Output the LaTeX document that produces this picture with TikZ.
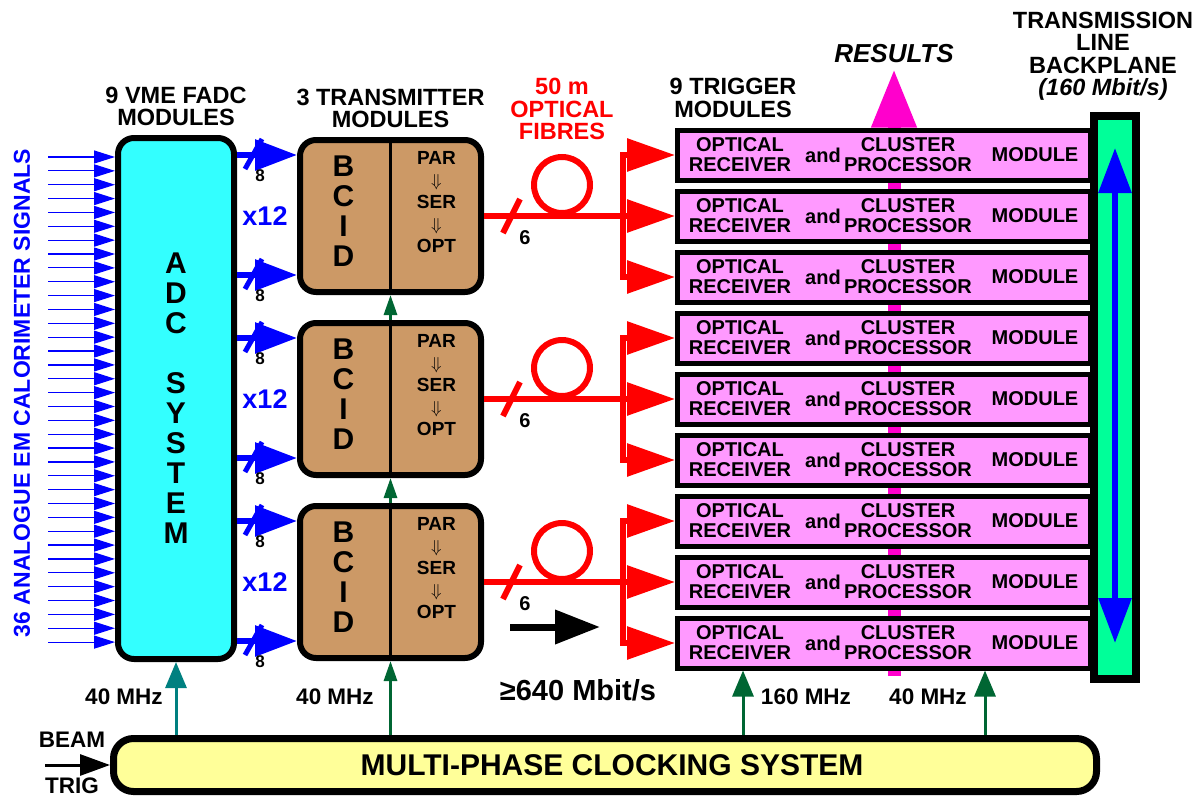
\documentclass[tikz,border=0pt]{standalone}
\usepackage{fontspec}
\setmainfont{Liberation Sans}
\usepackage{xcolor}
\usepackage{tikz}
\usetikzlibrary{arrows.meta, positioning, calc, backgrounds}

\definecolor{adccyan}{RGB}{51,255,255}
\definecolor{bcidtan}{RGB}{204,153,102}
\definecolor{tmpink}{RGB}{255,153,255}
\definecolor{bpgreen}{RGB}{0,255,153}
\definecolor{clkyellow}{RGB}{255,255,153}
\definecolor{clkgreen}{RGB}{0,102,51}
\definecolor{clkteal}{RGB}{0,128,128}
\definecolor{resmag}{RGB}{255,0,204}

\begin{document}
\begin{tikzpicture}[
    x=1pt, y=-1pt,
    lbl/.style={inner sep=0pt, align=center, font=\fontsize{22.5}{22}\selectfont\bfseries},
    headlbl/.style={lbl, font=\fontsize{23.5}{22.5}\selectfont\bfseries},
    modtxt/.style={lbl, font=\fontsize{20}{20}\selectfont\bfseries},
    bigtxt/.style={lbl, font=\fontsize{30}{30}\selectfont\bfseries},
    partxt/.style={lbl, font=\fontsize{19}{22}\selectfont\bfseries},
    smalltxt/.style={lbl, font=\fontsize{17}{17}\selectfont\bfseries},
    adcbox/.style={rectangle, draw=black, line width=6pt, rounded corners=16pt, fill=adccyan, minimum width=116pt, minimum height=521pt},
    bcidbox/.style={rectangle, draw=black, line width=6pt, rounded corners=16pt, fill=bcidtan, minimum width=181pt, minimum height=152pt},
    trigbox/.style={rectangle, draw=black, line width=5pt, fill=tmpink, minimum width=413pt, minimum height=50pt},
    bpbox/.style={rectangle, draw=black, line width=8pt, fill=bpgreen, minimum width=42pt, minimum height=563pt},
    clkbox/.style={rectangle, draw=black, line width=7pt, rounded corners=20pt, fill=clkyellow, minimum width=983pt, minimum height=53pt},
    fibreloop/.style={circle, draw=red, line width=6pt, minimum size=56pt, inner sep=0pt},
    sigarr/.style={blue, line width=1.2pt, -{Triangle[length=21pt,width=13pt]}},
    busarr/.style={blue, line width=6pt, -{Triangle[length=42pt,width=30pt]}},
    busslash/.style={blue, line width=5pt},
    fibre/.style={red, line width=6pt},
    fibrearr/.style={fibre, -{Triangle[length=48pt,width=32pt]}},
    clkarr/.style={clkgreen, line width=3pt, -{Triangle[length=26pt,width=21pt]}},
    smallclk/.style={clkgreen, line width=3pt, -{Triangle[length=20pt,width=13pt]}},
    bparr/.style={blue, line width=6pt, {Triangle[length=45pt,width=32pt]}-{Triangle[length=45pt,width=32pt]}},
    resarr/.style={resmag, line width=13pt, -{Triangle[length=59pt,width=42pt]}},
    bigarr/.style={black, line width=7pt, -{Triangle[length=45pt,width=33pt]}},
    beamarr/.style={black, line width=3pt, -{Triangle[length=30pt,width=21pt]}}
]
\useasboundingbox (0,0) rectangle (1203,798);

% FADC and transmitter modules
\node[adcbox] (adc) at (176,398.5) {};
\node[bigtxt] (adctxt) at (adc.center) {A\\D\\C\\[30pt]S\\Y\\S\\T\\E\\M};
\node[bcidbox] (bcid1) at (390.5,216) {};
\node[bcidbox, below=25pt of bcid1] (bcid2) {};
\node[bcidbox, below=25pt of bcid2] (bcid3) {};

% Trigger modules
\foreach \k in {1,...,9} {
  \node[trigbox] (tm\k) at (884, {155+(\k-1)*61}) {};
  \node[modtxt] (or\k) at ([xshift=65pt]tm\k.west) {OPTICAL\\RECEIVER};
  \node[modtxt] (and\k) at ([xshift=148pt]tm\k.west) {and};
  \node[modtxt] (cp\k) at ([xshift=233pt]tm\k.west) {CLUSTER\\PROCESSOR};
  \node[modtxt] (mod\k) at ([xshift=360pt]tm\k.west) {MODULE};
}

% Backplane and clock
\node[bpbox] (bp) at (1115,397.5) {};
\node[clkbox] (clock) at (605,765) {};
\node[bigtxt] (clktxt) at ([xshift=7pt]clock.center) {MULTI-PHASE CLOCKING SYSTEM};

% Titles
\node[headlbl, above=9pt of adc] (fadc) {9 VME FADC\\MODULES};
\node[headlbl, above=9pt of bcid1] (txm) {3 TRANSMITTER\\MODULES};
\node[headlbl, red, anchor=south] (fibres) at (562,140) {50 m\\OPTICAL\\FIBRES};
\node[headlbl, above=10pt of tm1.north west, xshift=58pt] (trigmods) {9 TRIGGER\\MODULES};
\node[headlbl, above=11pt of bp, xshift=-12pt] (bplbl) {TRANSMISSION\\LINE\\BACKPLANE\\{\itshape (160 Mbit/s)}};
\node[lbl, blue, rotate=90, font=\fontsize{23}{23}\selectfont\bfseries] (siglbl) at (22,393) {36 ANALOGUE EM CALORIMETER SIGNALS};

% Analogue inputs
\foreach \i in {0,...,35} {
  \coordinate (sig\i) at (48, {157+\i*13.86});
  \draw[sigarr] (sig\i) -- (sig\i -| adc.west);
}

% BCID / PAR-SER-OPT
\foreach \g in {1,2,3} {
  \draw[line width=3pt] (bcid\g.north) -- (bcid\g.south);
  \node[bigtxt] (bl\g) at ($(bcid\g.center)+(-47,-5)$) {B\\C\\I\\D};
  \node[partxt] (pr\g) at ($(bcid\g.center)+(46,-14)$) {PAR\\$\Downarrow$\\SER\\$\Downarrow$\\OPT};
  % digital buses
  \coordinate (bia\g) at ([yshift=61pt]bcid\g.west);
  \coordinate (bib\g) at ([yshift=-59pt]bcid\g.west);
  \draw[busarr] (bia\g -| adc.east) -- (bia\g);
  \draw[busslash] ($(bia\g -| adc.east)+(8,14)$) -- ++(17,-30);
  \node[smalltxt] (ea\g) at ($(bia\g -| adc.east)+(23,21)$) {8};
  \draw[busarr] (bib\g -| adc.east) -- (bib\g);
  \draw[busslash] ($(bib\g -| adc.east)+(8,14)$) -- ++(17,-30);
  \node[smalltxt] (eb\g) at ($(bib\g -| adc.east)+(23,21)$) {8};
  \node[lbl, blue, font=\fontsize{27}{27}\selectfont\bfseries] (x\g) at ($(bcid\g.west)+(-32,0)$) {x12};
}

% Optical fibres
\coordinate (fx) at (623,0);
\foreach \g/\a/\m/\z in {1/1/2/3, 2/4/5/6, 3/7/8/9} {
  \coordinate (fj\g) at (bcid\g.east -| fx);
  \draw[fibre] (bcid\g.east) -- (fj\g);
  \node[fibreloop] (loop\g) at ($(bcid\g.east)+(78,-31)$) {};
  \draw[fibre] ($(bcid\g.east)+(19,17)$) -- ++(17,-34);
  \node[lbl, font=\fontsize{20}{20}\selectfont\bfseries] (six\g) at ($(bcid\g.east)+(41,22)$) {6};
  \draw[fibrearr] (fj\g) |- (tm\a.west);
  \draw[fibrearr] (fj\g) |- (tm\m.west);
  \draw[fibrearr] (fj\g) |- (tm\z.west);
}

% Results path
\coordinate (restop) at ($(tm1.north)+(10,-59)$);
\coordinate (resbot) at ($(tm9.south)+(10,5)$);
\begin{scope}[on background layer]
  \draw[resarr] (resbot) -- (restop);
\end{scope}
\node[lbl, above=6pt of restop, font=\fontsize{26}{26}\selectfont\bfseries\itshape] (res) {RESULTS};

% Backplane transfers
\draw[bparr] ([yshift=-36pt]bp.north) -- ([yshift=40pt]bp.south);

% Link rate
\coordinate (rate0) at (510,627);
\coordinate (rate1) at (600,627);
\draw[bigarr] (rate0) -- (rate1);
\node[lbl, font=\fontsize{29}{29}\selectfont\bfseries] (rate) at (578,690) {≥640 Mbit/s};

% Clocks
\coordinate (ck160) at ($(tm9.south west)+(68,0)$);
\coordinate (ck40) at ($(tm9.south west)+(310,0)$);
\draw[clkarr, clkteal] (adc.south |- clock.north) -- (adc.south);
\draw[smallclk] (bcid3.south |- clock.north) -- (bcid3.south);
\draw[smallclk] (bcid3.north) -- (bcid2.south);
\draw[smallclk] (bcid2.north) -- (bcid1.south);
\draw[clkarr] (ck160 |- clock.north) -- (ck160);
\draw[clkarr] (ck40 |- clock.north) -- (ck40);
\node[lbl] (f1) at (124,697) {40 MHz};
\node[lbl] (f2) at (335,697) {40 MHz};
\node[lbl] (f3) at (806,697) {160 MHz};
\node[lbl] (f4) at (928,697) {40 MHz};

% Beam trigger
\node[lbl] (beam) at (72,740) {BEAM};
\node[lbl] (trig) at (72,786) {TRIG};
\coordinate (beamin) at (45,765);
\draw[beamarr] (beamin) -- (clock.west);

\end{tikzpicture}
\end{document}
